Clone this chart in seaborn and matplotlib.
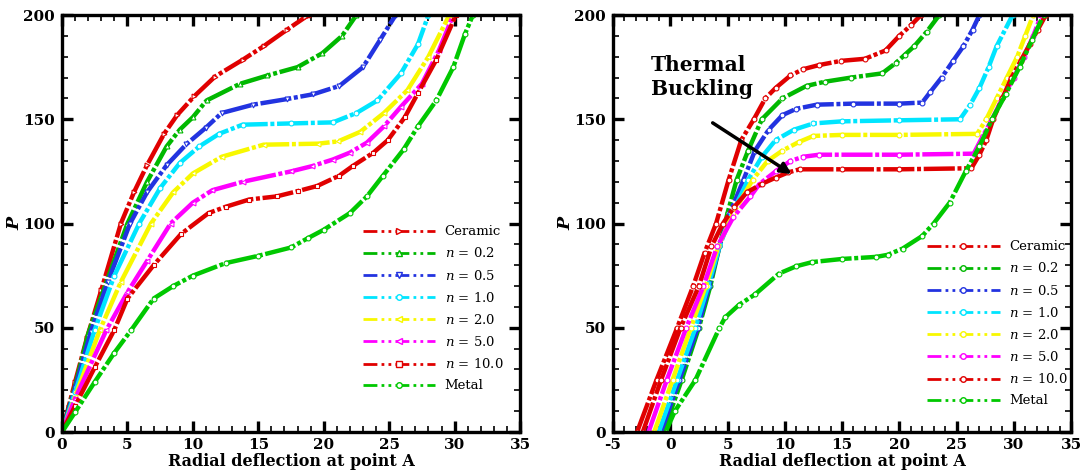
import numpy as np
import pandas as pd
import matplotlib
matplotlib.use("Agg")
import matplotlib.pyplot as plt
from matplotlib.lines import Line2D
from matplotlib.ticker import MultipleLocator
import seaborn as sns

# load-deflection curves, left = no thermal load, right = with thermal load
labels = ["Ceramic", "$n$ = 0.2", "$n$ = 0.5", "$n$ = 1.0", "$n$ = 2.0", "$n$ = 5.0", "$n$ = 10.0", "Metal"]
colors = ["#e00000", "#00b800", "#2233e0", "#00e5ff", "#f8f800", "#ff00ff", "#e00000", "#00c800"]
markers_left = [">", "^", "v", "o", "<", "<", "s", "o"]

# ---- left panel
ceramic_x1 = [0, 0.5, 1.0, 1.9, 3, 4.5, 5.5, 6.5, 7.8, 8.8, 10.1, 11.7, 13.8, 15.4, 17.2, 18.6, 19]
ceramic_p1 = [0, 12, 24, 45, 68, 100, 115, 128, 143, 152, 161, 170.5, 178.5, 185, 193, 199, 200]
n02_x1 = [0, 1, 2.0, 3, 5, 6.5, 8, 9, 10, 11.05, 13.6, 15.7, 18.0, 19.9, 21.4, 22.5]
n02_p1 = [0, 22, 47, 65, 100, 120, 137, 145, 151, 159, 167, 171, 175, 181.7, 190, 200]
n05_x1 = [0, 1, 2.2, 3.5, 5.2, 6.5, 8, 9.5, 11, 12.2, 14.6, 17.2, 19.2, 21.2, 23.0, 24.3, 25.5]
n05_p1 = [0, 21, 48, 72, 100, 115, 128, 138, 146, 153, 157, 159.7, 162, 166, 175, 188, 200]
n1_x1 = [0, 1, 2.5, 4, 5.9, 7.5, 9, 10.5, 12, 13.8, 17.5, 20.7, 22.5, 24.1, 25.9, 27.2, 28]
n1_p1 = [0, 19, 49, 75, 100, 117, 129, 137, 143, 147.4, 148, 148.5, 153, 159, 172, 186, 200]
n2_x1 = [0, 1, 2.9, 4.5, 6.8, 8.5, 10, 12.2, 15.4, 19.6, 21.1, 22.8, 24.6, 26.4, 28.0, 29.6]
n2_p1 = [0, 17, 49, 72, 100, 115, 124, 132, 137.8, 138.3, 139.4, 144, 153, 164, 180, 200]
n5_x1 = [0, 1, 3.4, 5, 6.5, 8.3, 10, 11.5, 13.8, 17.5, 19.1, 20.7, 22, 23.3, 24.6, 25.9, 27.5, 28.8, 29.9]
n5_p1 = [0, 16, 49, 67, 82, 100, 110, 116, 120, 125, 127.5, 130.7, 134, 138.8, 146.6, 156, 167, 183, 200]
n10_x1 = [0, 1, 2.5, 4, 5, 7, 9.1, 11.2, 12.5, 14.3, 16.4, 18, 19.5, 21.2, 22.2, 23.8, 24.9, 26.2, 27.2, 28.6, 30.1]
n10_p1 = [0, 12.5, 31, 49, 64, 80, 95, 105, 108, 111.5, 113, 115.5, 118, 123, 127.5, 134, 140, 151, 162.5, 178.5, 200]
metal_x1 = [0, 1, 2.5, 4, 5.3, 7, 8.5, 10, 12.5, 15, 17.5, 18.8, 20, 22, 23.3, 24.5, 26.1, 27.2, 28.6, 29.9, 30.8, 31.4]
metal_p1 = [0, 9.5, 24, 38, 49, 64, 70, 75, 81, 84.5, 88.5, 93, 97, 105, 113, 122.7, 135.5, 146.6, 159, 175, 191, 200]

# ---- right panel (thermal buckling plateaus)
ceramic_x2 = [-2.9, -1.2, 0.6, 2.0, 3.0, 4.0, 5.1, 6.2, 7.3, 8.3, 9.2, 10.5, 11.6, 13, 14.9, 17, 18.8, 20, 21, 21.9]
ceramic_p2 = [0, 25, 50, 70, 86, 100, 121, 140, 150, 160, 165, 171, 174, 176, 178, 179, 183, 190, 195, 200]
n02_x2 = [-0.6, 1.0, 2.5, 3.5, 4.3, 5.0, 5.8, 6.8, 8.0, 9.8, 11.9, 13.5, 15.8, 18.5, 19.7, 20.5, 21.3, 22.4, 23.5]
n02_p2 = [0, 25, 50, 70, 89, 105, 121, 135, 150, 160, 166, 168, 170, 172, 177, 181, 185, 192, 200]
n05_x2 = [-0.8, 0.8, 2.4, 3.4, 4.3, 5.2, 6.4, 7.4, 8.6, 9.8, 11, 12.8, 16, 20, 22, 22.7, 23.7, 24.7, 25.6, 26.4, 27]
n05_p2 = [0, 25, 50, 70, 89, 105, 121, 135, 145, 152, 155, 157, 157.5, 157.5, 158, 163, 170, 178, 185, 193, 200]
n1_x2 = [-1.0, 0.6, 2.2, 3.3, 4.3, 5.4, 6.8, 8.0, 9.2, 10.8, 12.5, 15, 20, 25.3, 26.2, 27.0, 27.8, 28.5, 29.9]
n1_p2 = [0, 25, 50, 70, 89, 105, 121, 132, 140, 145, 148, 149, 149.5, 150, 157, 165, 175, 185, 200]
n2_x2 = [-1.4, 0.2, 1.8, 3.1, 4.2, 5.5, 7.2, 8.5, 9.8, 11.2, 12.5, 15, 20, 26.8, 27.6, 28.5, 29.4, 30.3, 31.0, 31.7]
n2_p2 = [0, 25, 50, 70, 89, 105, 121, 130, 135, 139, 142, 142.5, 142.5, 143, 150, 160, 170, 180, 190, 200]
n5_x2 = [-1.9, -0.3, 1.4, 2.9, 4.1, 5.5, 7.0, 7.8, 9.2, 10.5, 11.6, 13, 20, 26.5, 27.3, 28.1, 29.0, 30.0, 30.9, 31.7, 32.4]
n5_p2 = [0, 25, 50, 70, 89, 103, 113, 119, 125, 130, 132, 133, 133, 133.5, 142, 150, 160, 170, 180, 190, 200]
n10_x2 = [-2.4, -0.8, 0.9, 2.5, 3.6, 4.6, 5.6, 6.7, 8.0, 9.2, 10.3, 11.3, 15, 20, 26.3, 27.0, 27.6, 28.2, 29.0, 29.8, 30.6, 31.4, 32.1, 32.8]
n10_p2 = [0, 25, 50, 70, 89, 100, 108, 115, 119, 122, 124.5, 126, 126, 126, 126.5, 133, 140, 150, 160, 170, 178, 186, 193, 200]
metal_x2 = [-0.4, 0.4, 2.2, 4.3, 4.8, 6.0, 7.4, 9.5, 11, 12.4, 15, 18, 19, 20.3, 22, 23, 24.4, 25.8, 27, 28.1, 29.3, 30.5, 31.6, 32.6]
metal_p2 = [0, 10, 25, 50, 55, 61, 66, 76, 79.5, 81.5, 83, 84, 85, 88, 94, 100, 110, 125, 137, 150, 162, 175, 188, 200]

left_series = [(ceramic_x1, ceramic_p1), (n02_x1, n02_p1), (n05_x1, n05_p1), (n1_x1, n1_p1),
               (n2_x1, n2_p1), (n5_x1, n5_p1), (n10_x1, n10_p1), (metal_x1, metal_p1)]
right_series = [(ceramic_x2, ceramic_p2), (n02_x2, n02_p2), (n05_x2, n05_p2), (n1_x2, n1_p2),
                (n2_x2, n2_p2), (n5_x2, n5_p2), (n10_x2, n10_p2), (metal_x2, metal_p2)]

sns.set_style("ticks")
plt.rcParams["font.family"] = ["DejaVu Serif"]
plt.rcParams["mathtext.fontset"] = "dejavuserif"
plt.rcParams["axes.unicode_minus"] = False
for key in ["axes.edgecolor", "xtick.color", "ytick.color", "text.color", "axes.labelcolor"]:
    plt.rcParams[key] = "black"

fig = plt.figure(figsize=(10.8, 4.72), dpi=100)
ax1 = fig.add_axes([0.0574, 0.0847, 0.4241, 0.8835])
ax2 = fig.add_axes([0.5676, 0.0847, 0.4241, 0.8835])

curve_ls = (0, (7, 0.6, 0.9, 0.6))
legend_ls = (0, (5, 1.5, 1, 1.5, 1, 1.5))


def draw_panel(ax, series, mks, xmin, leg_anchor):
    for (xs, ps), c, m in zip(series, colors, mks):
        sns.lineplot(x=xs, y=ps, ax=ax, color=c, lw=3.2, linestyle=curve_ls,
                     marker=m, markersize=3.5, markerfacecolor="white",
                     markeredgecolor=c, markeredgewidth=0.8,
                     sort=False, estimator=None, legend=False)
    ax.set_xlim(xmin, 35)
    ax.set_ylim(0, 200)
    ax.xaxis.set_major_locator(MultipleLocator(5))
    ax.xaxis.set_minor_locator(MultipleLocator(1))
    ax.yaxis.set_major_locator(MultipleLocator(50))
    ax.yaxis.set_minor_locator(MultipleLocator(10))
    ax.tick_params(which="both", direction="in", top=True, right=True, color="black")
    ax.tick_params(which="major", length=8, width=2.4, labelsize=11)
    ax.tick_params(axis="x", which="major", pad=4.5)
    ax.tick_params(axis="y", which="major", pad=5)
    ax.tick_params(which="minor", length=4.5, width=1.2)
    for lab in ax.get_xticklabels() + ax.get_yticklabels():
        lab.set_fontweight("bold")
    for sp in ax.spines.values():
        sp.set_linewidth(2.4)
        sp.set_color("black")
        sp.set_visible(True)
    ax.set_xlabel("Radial deflection at point A", fontsize=11.5, fontweight="bold", labelpad=0.5)
    ax.set_ylabel("P", fontsize=12.5, fontweight="bold", fontstyle="italic", labelpad=0)
    handles = [Line2D([], [], color=c, lw=2, linestyle=legend_ls, marker=m, markersize=4,
                      markerfacecolor="white", markeredgecolor=c)
               for c, m in zip(colors, mks)]
    ax.legend(handles, labels, loc="upper left", bbox_to_anchor=leg_anchor, frameon=False,
              fontsize=9.5, handlelength=5.5, handletextpad=0.7, labelspacing=0.62,
              borderpad=0, borderaxespad=0, numpoints=1)


draw_panel(ax1, left_series, markers_left, 0, (0.657, 0.496))
draw_panel(ax2, right_series, ["o"] * 8, -5, (0.686, 0.46))

ax2.text(-1.7, 181, "Thermal\nBuckling", fontsize=14.5, fontweight="bold",
         ha="left", va="top", linespacing=1.3)
ax2.annotate("", xy=(10.8, 123), xytext=(3.5, 149),
             arrowprops=dict(arrowstyle="-|>", lw=2.5, color="black", mutation_scale=16))

fig.savefig("out.png", dpi=100)
